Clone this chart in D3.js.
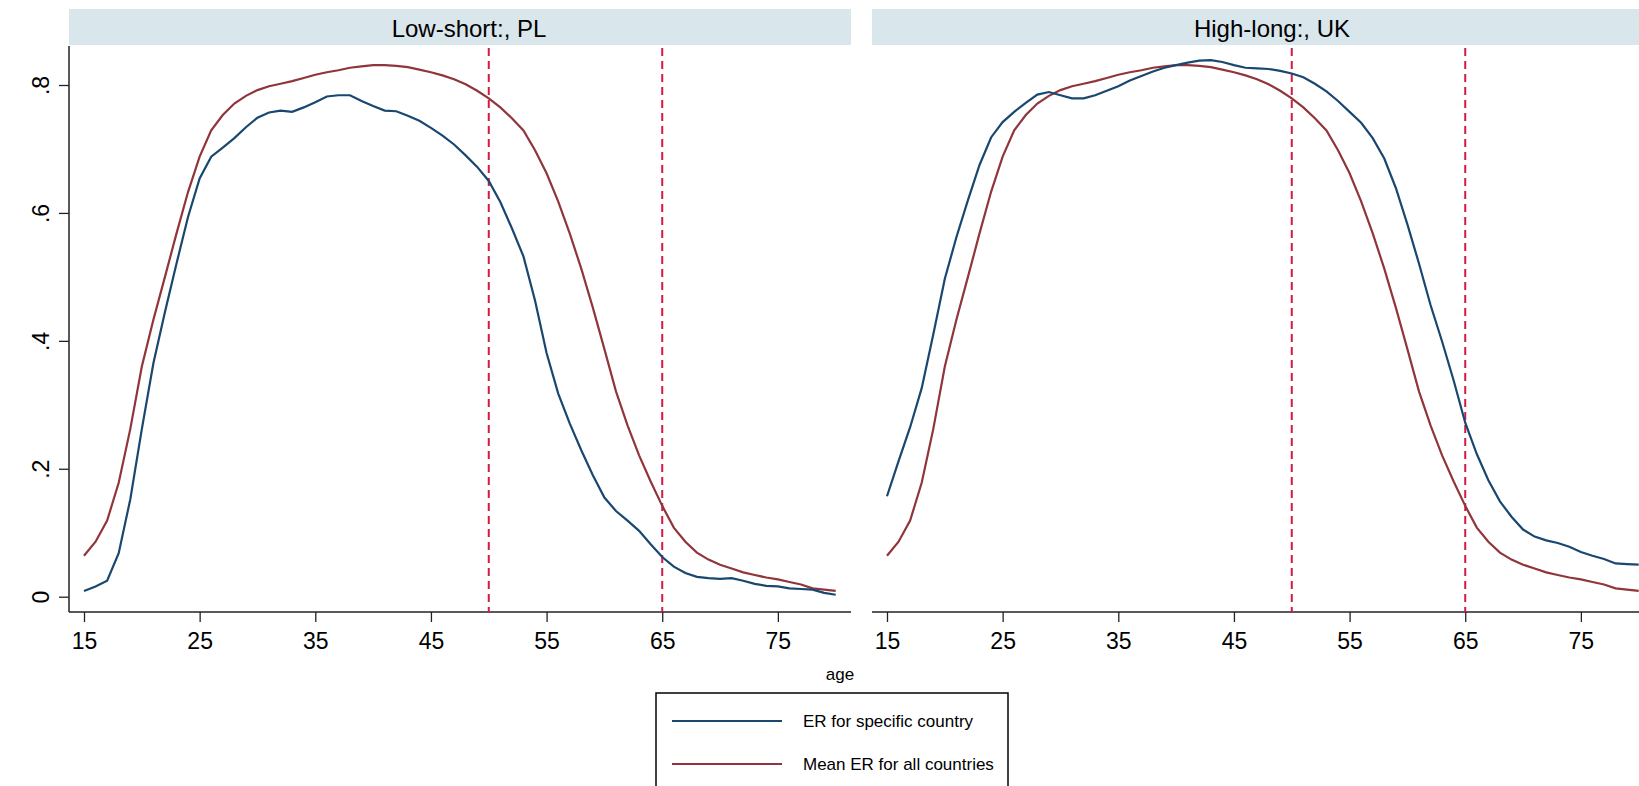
<!DOCTYPE html>
<html>
<head>
<meta charset="utf-8">
<script src="https://cdn.jsdelivr.net/npm/d3@7"></script>
<style>
  body { margin: 0; background: #fff; }
  svg { display: block; font-family: "Liberation Sans", Arial, sans-serif; }
</style>
</head>
<body>
<script>
// ages on the x axis
var ages = [15,16,17,18,19,20,21,22,23,24,25,26,27,28,29,30,31,32,33,34,35,36,37,38,39,40,
            41,42,43,44,45,46,47,48,49,50,51,52,53,54,55,56,57,58,59,60,61,62,63,64,65,66,
            67,68,69,70,71,72,73,74,75,76,77,78,79,80]

// employment rate, Poland
var erPL = [0.009,0.016,0.025,0.068,0.152,0.262,0.365,0.445,0.521,0.594,0.654,0.688,0.702,0.717,
            0.734,0.749,0.757,0.760,0.758,0.765,0.773,0.782,0.784,0.784,0.775,0.767,0.760,0.759,
            0.752,0.744,0.733,0.721,0.707,0.690,0.672,0.650,0.617,0.576,0.532,0.463,0.381,0.318,
            0.271,0.229,0.190,0.155,0.134,0.119,0.103,0.082,0.062,0.047,0.037,0.031,0.029,0.028,
            0.029,0.025,0.020,0.017,0.016,0.013,0.012,0.011,0.006,0.003]

// employment rate, UK
var erUK = [0.157,0.212,0.265,0.326,0.410,0.497,0.562,0.620,0.675,0.718,0.742,0.758,0.772,0.785,
            0.789,0.784,0.779,0.779,0.784,0.791,0.798,0.807,0.814,0.821,0.827,0.831,0.835,0.838,
            0.839,0.836,0.831,0.827,0.826,0.825,0.822,0.818,0.812,0.802,0.790,0.775,0.758,0.741,
            0.717,0.685,0.639,0.582,0.521,0.456,0.399,0.338,0.272,0.223,0.182,0.149,0.125,0.105,
            0.094,0.088,0.084,0.078,0.070,0.064,0.059,0.052,0.051,0.050]

// mean employment rate over all countries
var erMean = [0.064,0.086,0.119,0.178,0.262,0.360,0.433,0.500,0.568,0.633,0.688,0.729,0.753,0.771,
              0.783,0.792,0.798,0.802,0.806,0.811,0.816,0.820,0.823,0.827,0.829,0.831,0.831,0.830,
              0.828,0.824,0.820,0.815,0.809,0.801,0.791,0.779,0.765,0.748,0.729,0.698,0.662,0.618,
              0.568,0.513,0.452,0.387,0.321,0.268,0.221,0.180,0.142,0.108,0.086,0.069,0.058,0.050,
              0.044,0.038,0.034,0.030,0.027,0.023,0.019,0.013,0.011,0.009]

var panelTitles = ["Low-short:, PL", "High-long:, UK"]
var panelSeries = [erPL, erUK]
var xTicks = [15,25,35,45,55,65,75]
var yTicks = [0,0.2,0.4,0.6,0.8]
var refAges = [50,65]
var legendLabels = ["ER for specific country", "Mean ER for all countries"]

var screen = {width:1639, height:786}
var blue = "#1a476f", maroon = "#90353b", refColor = "#d51a42", stripColor = "#d9e6eb"

var svg = d3.select("body")
            .append("svg")
            .attr("width", screen.width)
            .attr("height", screen.height)

// plot region, same for both panels
var plotTop = 46, plotBottom = 612, plotW = 782
var panelLeft = [69, 872]

var y = d3.scaleLinear().domain([0,0.8]).range([596.7,85])

panelLeft.forEach(function(x0, p){
  var x = d3.scaleLinear().domain([15,80]).range([x0+15, x0+15+751.7])
  var g = svg.append("g")

  // header strip
  g.append("rect")
   .attr("x", x0).attr("y", 9)
   .attr("width", plotW).attr("height", 36)
   .attr("fill", stripColor)
  g.append("text")
   .attr("x", x0 + plotW/2 + 9).attr("y", 28)
   .attr("text-anchor", "middle")
   .attr("dominant-baseline", "central")
   .attr("font-size", 24)
   .text(panelTitles[p])

  // x axis
  var xAxis = d3.axisBottom(x).tickValues(xTicks).tickSize(10).tickPadding(11).tickSizeOuter(0)
  var ax = g.append("g").attr("transform", "translate(0," + plotBottom + ")").call(xAxis)
  ax.select(".domain").remove()
  ax.selectAll("line").attr("stroke", "#222").attr("stroke-width", 1.3)
  ax.selectAll("text").attr("font-size", 23).attr("fill", "#000")
    .attr("font-family", "Liberation Sans, Arial, sans-serif")
  g.append("line")
   .attr("x1", x0).attr("x2", x0 + plotW)
   .attr("y1", plotBottom).attr("y2", plotBottom)
   .attr("stroke", "#222").attr("stroke-width", 1.5)

  // y axis only on the first panel
  if (p == 0) {
    var yAxis = d3.axisLeft(y).tickValues(yTicks).tickSize(10).tickSizeOuter(0)
                  .tickFormat(function(d){ return d == 0 ? "0" : d3.format(".1f")(d).replace(/^0/, "") })
    var ay = g.append("g").attr("transform", "translate(" + x0 + ",0)").call(yAxis)
    ay.select(".domain").remove()
    ay.selectAll("line").attr("stroke", "#222").attr("stroke-width", 1.3)
    ay.selectAll("text")
      .attr("font-size", 23).attr("fill", "#000")
      .attr("font-family", "Liberation Sans, Arial, sans-serif")
      .attr("transform", "rotate(-90)")
      .attr("x", 0).attr("y", -20).attr("dy", 0)
      .attr("text-anchor", "middle")
    g.append("line")
     .attr("x1", x0).attr("x2", x0)
     .attr("y1", plotTop).attr("y2", plotBottom)
     .attr("stroke", "#222").attr("stroke-width", 1.5)
  }

  // reference lines at 50 and 65
  g.selectAll("line.ref")
   .data(refAges)
   .enter()
   .append("line")
   .attr("class", "ref")
   .attr("x1", function(d){ return x(d) }).attr("x2", function(d){ return x(d) })
   .attr("y1", plotTop + 2).attr("y2", plotBottom)
   .attr("stroke", refColor).attr("stroke-width", 2)
   .attr("stroke-dasharray", "8,5")

  var line = d3.line()
               .x(function(d,i){ return x(ages[i]) })
               .y(function(d){ return y(d) })

  g.append("path")
   .attr("d", line(erMean))
   .attr("fill", "none").attr("stroke", maroon).attr("stroke-width", 2.2)
  g.append("path")
   .attr("d", line(panelSeries[p]))
   .attr("fill", "none").attr("stroke", blue).attr("stroke-width", 2.2)
})

// x axis title
svg.append("text")
   .attr("x", 840).attr("y", 680)
   .attr("text-anchor", "middle")
   .attr("font-size", 17)
   .text("age")

// legend
var lg = svg.append("g")
lg.append("rect")
  .attr("x", 656).attr("y", 693)
  .attr("width", 352).attr("height", 120)
  .attr("fill", "#fff").attr("stroke", "#000").attr("stroke-width", 1.5)

var legendColors = [blue, maroon]
var items = lg.selectAll("g.item")
              .data(legendLabels)
              .enter()
              .append("g")
              .attr("class", "item")
              .attr("transform", function(d,i){ return "translate(0," + (721 + i*43) + ")" })
items.append("line")
     .attr("x1", 672).attr("x2", 782)
     .attr("y1", 0).attr("y2", 0)
     .attr("stroke", function(d,i){ return legendColors[i] })
     .attr("stroke-width", 2.2)
items.append("text")
     .attr("x", 803).attr("y", 0)
     .attr("dominant-baseline", "central")
     .attr("font-size", 17)
     .text(function(d){ return d })
</script>
</body>
</html>
